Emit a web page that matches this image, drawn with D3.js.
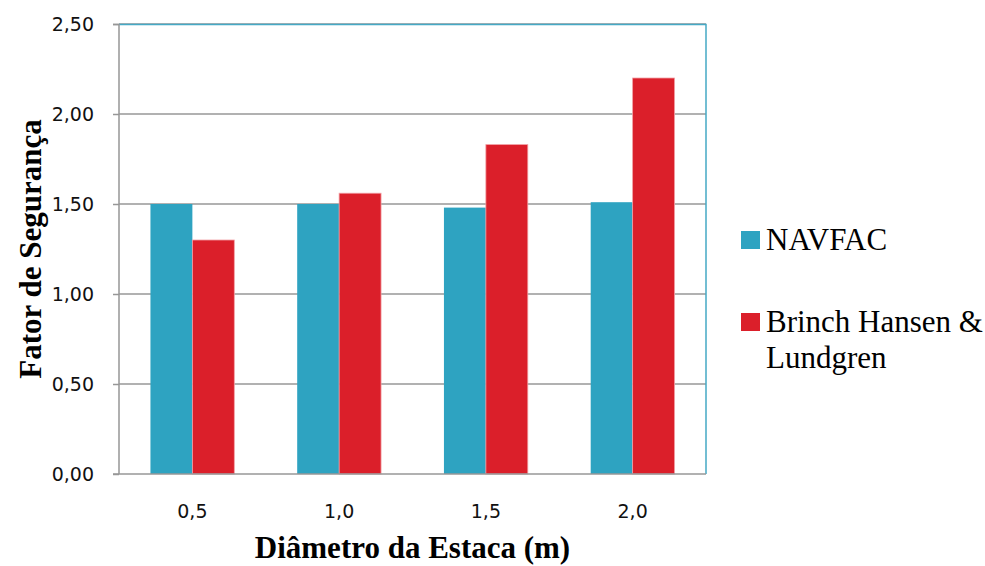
<!DOCTYPE html>
<html>
<head>
<meta charset="utf-8">
<script src="https://cdn.jsdelivr.net/npm/d3@7"></script>
<style>
  html, body { margin: 0; padding: 0; background: #fff; }
  svg { display: block; }
  .serif { font-family: "Liberation Serif", "Times New Roman", "DejaVu Serif", serif; }
  .tick text { font-family: "DejaVu Sans", sans-serif; }
</style>
</head>
<body>
<svg id="chart" width="985" height="566"></svg>
<script>
// Fator de segurança por diâmetro da estaca, dois métodos de cálculo
const categories = ["0,5", "1,0", "1,5", "2,0"];
const seriesNames = ["NAVFAC", "Brinch Hansen & Lundgren"];
const navfac = [1.50, 1.50, 1.48, 1.51];
const brinchHansen = [1.30, 1.56, 1.83, 2.20];
const yTicks = [0, 0.5, 1.0, 1.5, 2.0, 2.5];
const colors = ["#2ea3c1", "#db1f2a"];

const svg = d3.select("#chart");
const margin = { left: 119, right: 279, top: 24, bottom: 92 };
const W = 985, H = 566;
const plotW = W - margin.left - margin.right;
const plotH = H - margin.top - margin.bottom;

const g = svg.append("g").attr("transform", `translate(${margin.left},${margin.top})`);

const x0 = d3.scaleBand().domain(categories).range([0, plotW]).paddingInner(150 / 350).paddingOuter(75 / 350);
const x1 = d3.scaleBand().domain(seriesNames).range([0, x0.bandwidth()]);
const y = d3.scaleLinear().domain([0, 2.5]).range([plotH, 0]);

const fmt = v => d3.format(".2f")(v).replace(".", ",");

// gridlines
g.append("g")
  .selectAll("line")
  .data(yTicks.filter(t => t > 0))
  .join("line")
  .attr("x1", 0).attr("x2", plotW)
  .attr("y1", d => y(d)).attr("y2", d => y(d))
  .attr("stroke", "#979797").attr("stroke-width", 1.5);

// bars
const rows = categories.map((c, i) => ({ cat: c, vals: [navfac[i], brinchHansen[i]] }));
const groups = g.append("g").selectAll("g")
  .data(rows).join("g")
  .attr("transform", d => `translate(${x0(d.cat)},0)`);
groups.selectAll("rect")
  .data(d => d.vals.map((v, k) => ({ name: seriesNames[k], v, k })))
  .join("rect")
  .attr("x", d => x1(d.name))
  .attr("width", x1.bandwidth())
  .attr("y", d => y(d.v))
  .attr("height", d => plotH - y(d.v))
  .attr("fill", d => colors[d.k])
  .attr("stroke", d => d.k === 1 ? "#f2a0a5" : "none")
  .attr("stroke-width", 0.8);

// plot border (top and right)
g.append("path")
  .attr("d", `M0,0.5H${plotW}V${plotH}`)
  .attr("fill", "none").attr("stroke", "#45a9c5").attr("stroke-width", 1.5);

// y axis
const yAxis = d3.axisLeft(y).tickValues(yTicks).tickFormat(fmt).tickSize(6).tickPadding(19);
const ya = g.append("g").call(yAxis);
ya.attr("font-family", null).attr("font-size", null);
ya.select(".domain").attr("stroke", "#979797").attr("stroke-width", 1.5).attr("d", `M-6,0.5H0V${plotH}`);
ya.selectAll(".tick line").attr("stroke", "#979797").attr("stroke-width", 1.5);
ya.selectAll(".tick text")
  .style("font-size", "19px").attr("fill", "#111");

// x axis
const xAxis = d3.axisBottom(x0).tickSize(0).tickPadding(31);
const xa = g.append("g").attr("transform", `translate(0,${plotH})`).call(xAxis);
xa.attr("font-family", null).attr("font-size", null);
xa.select(".domain").attr("stroke", "#979797").attr("stroke-width", 1.5).attr("d", `M-6,0H${plotW}`);
xa.selectAll(".tick text")
  .style("font-size", "19px").attr("fill", "#111");

// axis titles
svg.append("text")
  .attr("class", "serif")
  .attr("x", margin.left + plotW / 2).attr("y", 558)
  .attr("text-anchor", "middle")
  .attr("font-weight", "bold")
  .style("font-size", "31px").attr("fill", "#000")
  .text("Diâmetro da Estaca (m)");

svg.append("text")
  .attr("class", "serif")
  .attr("transform", `translate(41,${margin.top + plotH / 2}) rotate(-90)`)
  .attr("text-anchor", "middle")
  .attr("font-weight", "bold")
  .style("font-size", "31px").attr("fill", "#000")
  .text("Fator de Segurança");

// legend
const legend = svg.append("g").attr("transform", "translate(741,0)");
const legendItems = [
  { lines: ["NAVFAC"], y: 231 },
  { lines: ["Brinch Hansen &", "Lundgren"], y: 313 }
];
legendItems.forEach((it, k) => {
  legend.append("rect")
    .attr("x", 0).attr("y", it.y).attr("width", 19).attr("height", 18)
    .attr("fill", colors[k]);
  const t = legend.append("text")
    .attr("class", "serif")
    .style("font-size", "31px").attr("fill", "#000");
  it.lines.forEach((ln, j) => {
    t.append("tspan").attr("x", 25).attr("y", it.y + 19 + j * 36).text(ln);
  });
});
</script>
</body>
</html>
